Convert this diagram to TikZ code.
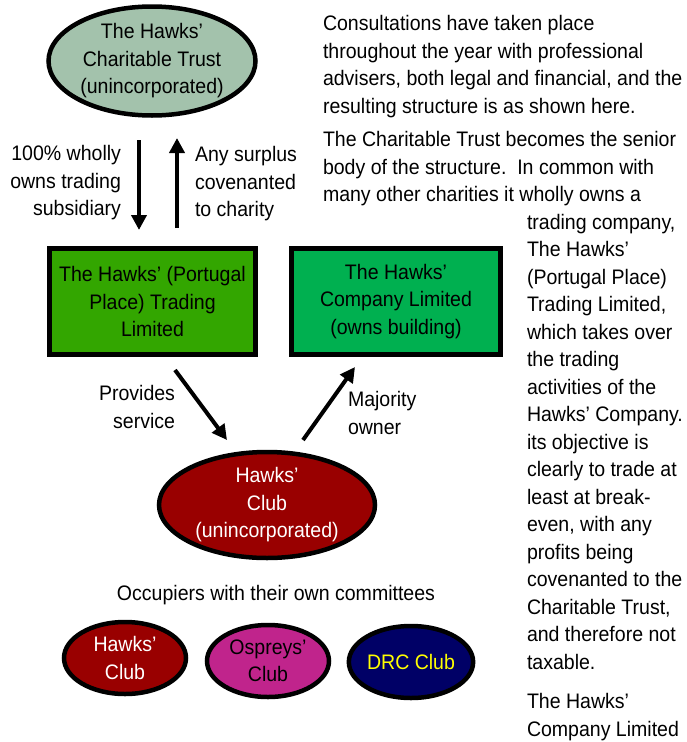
\documentclass[tikz,border=0pt]{standalone}
\usepackage{fontspec}
\setmainfont{Liberation Sans}[FakeStretch=0.93]
\usetikzlibrary{shapes.geometric,arrows.meta}
\definecolor{trustfill}{RGB}{163,194,172}
\definecolor{tradefill}{RGB}{51,166,0}
\definecolor{compfill}{RGB}{0,176,80}
\definecolor{clubred}{RGB}{153,0,0}
\definecolor{ospreyfill}{RGB}{192,36,140}
\definecolor{drcfill}{RGB}{0,0,102}
\definecolor{drctext}{RGB}{255,255,0}
\newcommand\fs{\fontsize{21}{27.5}\selectfont}
\begin{document}
\begin{tikzpicture}[x=1pt,y=-1pt,
  every node/.style={font=\fs, inner sep=0pt, outer sep=0pt},
  oval/.style={ellipse, draw=black, line width=4.5pt, align=center},
  rbox/.style={rectangle, draw=black, line width=5pt, align=center},
  arr/.style={line width=4pt, -{Triangle[length=15pt,width=15pt]}},
  para/.style={anchor=north west, align=left}]
\useasboundingbox (0,0) rectangle (686,742);

% main nodes
\node[oval, fill=trustfill, minimum width=207pt, minimum height=109pt] (trust) at (152,61)
  {The Hawks’\\Charitable Trust\\(unincorporated)};
\node[rbox, fill=tradefill, minimum width=206pt, minimum height=106pt] (trade) at (152.5,301.5)
  {The Hawks’ (Portugal\\Place) Trading\\Limited};
\node[rbox, fill=compfill, minimum width=209pt, minimum height=106pt] (company) at (396,301.5)
  {The Hawks’\\Company Limited\\(owns building)};
\node[oval, fill=clubred, text=white, minimum width=216pt, minimum height=106pt] (club) at (267,505)
  {Hawks’\\Club\\(unincorporated)};

% occupiers
\node (occ) at (276,595) {Occupiers with their own committees};
\node[oval, fill=clubred, text=white, minimum width=122pt, minimum height=72pt] (hawks) at (125,658)
  {Hawks’\\Club};
\node[oval, fill=ospreyfill, text=black, minimum width=122pt, minimum height=72pt] (ospreys) at (268,661)
  {Ospreys’\\Club};
\node[oval, fill=drcfill, text=drctext, minimum width=124pt, minimum height=72pt] (drc) at (411,662)
  {DRC Club};

% connectors
\coordinate (ownS) at (139,140);
\coordinate (ownE) at (139,230);
\coordinate (surS) at (177,228);
\coordinate (surE) at (177,138);
\coordinate (provS) at (175,370);
\coordinate (provE) at (227,440);
\coordinate (majS) at (303,440);
\coordinate (majE) at (355,367);
\draw[arr] (ownS) -- (ownE);
\draw[arr] (surS) -- (surE);
\draw[arr] (provS) -- (provE);
\draw[arr] (majS) -- (majE);

% connector labels
\node[anchor=east, align=right] (lown) at (121,183) {100\% wholly\\owns trading\\subsidiary};
\node[anchor=west, align=left] (lsur) at (195,184) {Any surplus\\covenanted\\to charity};
\node[anchor=east, align=right] (lprov) at (175,407) {Provides\\service};
\node[anchor=west, align=left] (lmaj) at (348,413) {Majority\\owner};

% explanatory text
\node[para] (p1) at (323,11.25) {\strut Consultations have taken place\\throughout the year with professional\\advisers, both legal and financial, and the\\resulting structure is as shown here.};
\node[para] (p2) at (323,127.25) {\strut The Charitable Trust becomes the senior\\body of the structure.\ \ In common with\\many other charities it wholly owns a};
\node[para] (p3) at (527,209.75) {\strut trading company,\\The Hawks’\\(Portugal Place)\\Trading Limited,\\which takes over\\the trading\\activities of the\\Hawks’ Company.\\its objective is\\clearly to trade at\\least at break-\\even, with any\\profits being\\covenanted to the\\Charitable Trust,\\and therefore not\\taxable.};
\node[para] (p4) at (527,689.25) {\strut The Hawks’\\Company Limited};
\end{tikzpicture}
\end{document}
